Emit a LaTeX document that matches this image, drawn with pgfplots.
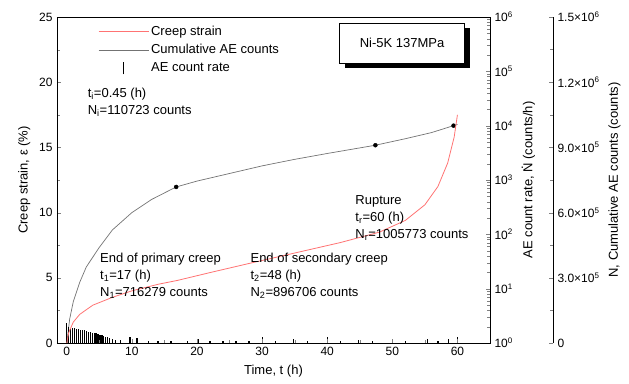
\documentclass[border=0pt]{standalone}
\usepackage{fontspec}
\setmainfont{Liberation Sans}
\usepackage{pgfplots}
\pgfplotsset{compat=1.18}
\usetikzlibrary{shadows}
\newcommand{\Ndot}{\rlap{\hspace{0.24em}\raisebox{0.72em}{.}}N}

\begin{document}
\fontsize{13}{16}\selectfont
\begin{tikzpicture}
\path[use as bounding box] (-57pt,-40pt) rectangle (572pt,343pt);
\pgfplotsset{every axis/.append style={scale only axis, height=326pt,
  font=\fontsize{13}{16}\selectfont,
  tick label style={font=\fontsize{12}{14}\selectfont},
  scaled ticks=false,
  /pgf/number format/assume math mode=true}}

% hidden axis for cumulative AE counts
\begin{axis}[width=433pt, xmin=-1.5, xmax=65, ymin=0, ymax=1.5e6, hide axis]
\addplot[black!55, line width=0.7pt] coordinates {
(0,0) (0.45,110723) (1,190000) (2,280000) (3,350000) (5,440000) (7,520000)
(10,600000) (13,660000) (16.8,718000) (20,745000) (25,780000) (30,815000)
(35,845000) (40,872000) (47.4,910000) (52,940000) (56,968000) (59.4,1000000) (60,1005773)};
\addplot[only marks, mark=*, mark size=2pt, black] coordinates {
(16.8,718000) (47.4,910000) (59.4,1000000)};
\end{axis}

% AE count rate (log) axis
\begin{axis}[width=433pt, xmin=-1.5, xmax=65, ymode=log, ymin=1, ymax=1e6,
  axis x line=none, axis y line*=right, axis line style={line width=0.8pt},
  ytick={1,10,100,1000,10000,100000,1000000},
  yticklabels={10\textsuperscript{0},10\textsuperscript{1},10\textsuperscript{2},10\textsuperscript{3},10\textsuperscript{4},10\textsuperscript{5},10\textsuperscript{6}},
  ylabel={AE count rate, \Ndot{} (counts/h)}]
\addplot[ycomb, black, line width=1.2pt] coordinates {
(0,2.3) (0.3,2.0) (0.6,1.9) (0.9,1.9) (1.2,1.85) (1.5,1.8) (1.8,1.8) (2.1,1.75)
(2.4,1.7) (2.7,1.7) (3.0,1.65) (3.3,1.6) (3.6,1.6) (3.9,1.55) (4.2,1.5) (4.5,1.5)
(4.8,1.45) (5.1,1.4) (5.4,1.4) (5.7,1.35) (6.0,1.3) (6.3,1.3) (6.6,1.25) (7.0,1.2)
(7.5,1.15) (8.2,1.15) (9.7,1.3) (10.8,1.25) (12.5,1.1) (14,1.1) (16,1.1) (18.5,1.1)
(20.2,1.2) (22,1.1) (24,1.1) (26,1.1) (28,1.1) (30,1.3) (32,1.1) (34.8,1.2) (37,1.1)
(40,1.3) (42,1.1) (44.8,1.15) (47,1.1) (50,1.2) (52,1.1) (55.4,1.2) (57,1.1)
(58.6,1.2) (60,1.3)};
\end{axis}

% cumulative AE counts tick axis
\begin{axis}[width=496pt, xmin=0, xmax=1, ymin=0, ymax=1.5e6,
  axis x line=none, axis y line*=right, minor y tick num=1,
  ytick={0,300000,600000,900000,1200000,1500000},
  yticklabels={0,3.0×10\textsuperscript{5},6.0×10\textsuperscript{5},9.0×10\textsuperscript{5},1.2×10\textsuperscript{6},1.5×10\textsuperscript{6}},
  ylabel={N, Cumulative AE counts (counts)}]
\end{axis}

% main axis: creep strain
\begin{axis}[width=433pt, xmin=-1.5, xmax=65, ymin=0, ymax=25,
  xtick={0,10,20,30,40,50,60}, ytick={0,5,10,15,20,25},
  minor tick num=1, xtick pos=bottom, ytick pos=left,
  xlabel={Time, t (h)}, ylabel={Creep strain, ε (\%)},
  legend style={at={(0.088,0.985)}, anchor=north west, draw=none, fill=none,
    row sep=3pt, font=\fontsize{13}{16}\selectfont},
  legend cell align=left]
\addlegendimage{legend image code/.code={\draw[red!55, line width=0.8pt] (0pt,0pt)--(50pt,0pt);}}
\addlegendentry{Creep strain}
\addlegendimage{legend image code/.code={\draw[black!55, line width=0.7pt] (0pt,0pt)--(50pt,0pt);}}
\addlegendentry{Cumulative AE counts}
\addlegendimage{legend image code/.code={\draw[black, line width=1.2pt] (25pt,-6pt)--(25pt,6pt);}}
\addlegendentry{AE count rate}
\addplot[red!55, line width=0.8pt, forget plot] coordinates {
(0,0) (0.3,0.8) (1,1.6) (2,2.2) (4,2.9) (7,3.5) (10,4.0) (14,4.5) (17,4.8)
(22,5.4) (28,6.1) (35,6.9) (42,7.7) (48,8.5) (52,9.4) (55,10.6) (57,12.0)
(58.5,13.8) (59.5,15.8) (60,17.5)};
\node[anchor=north west, align=left, inner sep=0pt, font=\fontsize{13}{17}\selectfont]
  at (axis cs:3.2,19.6) {t\textsubscript{i}=0.45 (h)\\N\textsubscript{i}=110723 counts};
\node[anchor=north west, align=left, inner sep=0pt, font=\fontsize{13}{17}\selectfont]
  at (axis cs:5.1,6.9) {End of primary creep\\t\textsubscript{1}=17 (h)\\N\textsubscript{1}=716279 counts};
\node[anchor=north west, align=left, inner sep=0pt, font=\fontsize{13}{17}\selectfont]
  at (axis cs:28.2,6.9) {End of secondary creep\\t\textsubscript{2}=48 (h)\\N\textsubscript{2}=896706 counts};
\node[anchor=north west, align=left, inner sep=0pt, font=\fontsize{13}{17}\selectfont]
  at (axis cs:44.3,11.3) {Rupture\\t\textsubscript{r}=60 (h)\\N\textsubscript{r}=1005773 counts};
\node[draw, fill=white, line width=0.6pt, minimum width=125pt, minimum height=40pt,
  drop shadow={shadow xshift=5pt, shadow yshift=-5pt, opacity=1, fill=black}]
  at (rel axis cs:0.797,0.92) {Ni-5K 137MPa};
\end{axis}
\end{tikzpicture}
\end{document}
